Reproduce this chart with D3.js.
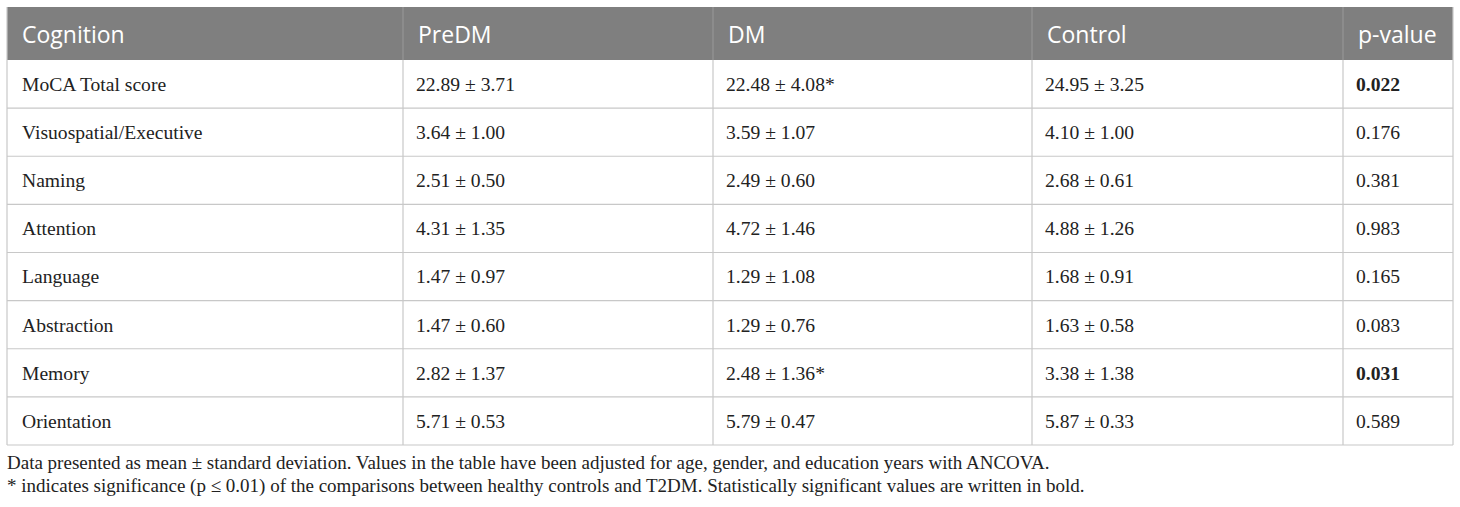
<!DOCTYPE html>
<html>
<head>
<meta charset="utf-8">
<script src="https://cdn.jsdelivr.net/npm/d3@7"></script>
<style>
  body { margin: 0; background: #fff; }
</style>
</head>
<body>
<div id="div_table"></div>
<script>
// data
var columns = ["Cognition", "PreDM", "DM", "Control", "p-value"];
var measures = ["MoCA Total score", "Visuospatial/Executive", "Naming", "Attention",
    "Language", "Abstraction", "Memory", "Orientation"];
var preDM = ["22.89 ± 3.71", "3.64 ± 1.00", "2.51 ± 0.50", "4.31 ± 1.35",
    "1.47 ± 0.97", "1.47 ± 0.60", "2.82 ± 1.37", "5.71 ± 0.53"];
var dm = ["22.48 ± 4.08*", "3.59 ± 1.07", "2.49 ± 0.60", "4.72 ± 1.46",
    "1.29 ± 1.08", "1.29 ± 0.76", "2.48 ± 1.36*", "5.79 ± 0.47"];
var control = ["24.95 ± 3.25", "4.10 ± 1.00", "2.68 ± 0.61", "4.88 ± 1.26",
    "1.68 ± 0.91", "1.63 ± 0.58", "3.38 ± 1.38", "5.87 ± 0.33"];
var pValues = ["0.022", "0.176", "0.381", "0.983", "0.165", "0.083", "0.031", "0.589"];
var significant = [true, false, false, false, false, false, true, false];
var notes = [
    "Data presented as mean ± standard deviation. Values in the table have been adjusted for age, gender, and education years with ANCOVA.",
    "* indicates significance (p ≤ 0.01) of the comparisons between healthy controls and T2DM. Statistically significant values are written in bold."
];

// layout
var W = 1460, H = 507;
var colEdges = [7, 403, 713, 1032, 1343, 1453];
var tableTop = 7, headH = 53, tableBottom = 445;

var svg = d3.select("#div_table").append("svg")
    .attr("width", W)
    .attr("height", H);

var y = d3.scaleBand().domain(d3.range(measures.length)).range([tableTop + headH, tableBottom]);

var rows = measures.map(function (m, i) {
    return [m, preDM[i], dm[i], control[i], pValues[i]];
});

// header
svg.append("rect")
    .attr("x", colEdges[0]).attr("y", tableTop)
    .attr("width", colEdges[5] - colEdges[0]).attr("height", headH)
    .attr("fill", "#7f7f7f");

svg.selectAll(".hsep").data(colEdges.slice(1, 5)).enter().append("line")
    .attr("x1", function (d) { return d; }).attr("x2", function (d) { return d; })
    .attr("y1", tableTop).attr("y2", tableTop + headH)
    .attr("stroke", "#9a9a9a").attr("stroke-width", 1);

svg.selectAll(".head").data(columns).enter().append("text")
    .attr("class", "head")
    .attr("x", function (d, i) { return colEdges[i] + 15; })
    .attr("y", tableTop + headH / 2 + 1)
    .attr("dy", "0.36em")
    .attr("fill", "#fff")
    .attr("font-family", "'Open Sans', sans-serif")
    .attr("font-size", 23)
    .text(function (d) { return d; });

// body grid
var g = svg.append("g");
g.selectAll(".hline").data(d3.range(measures.length)).enter().append("line")
    .attr("x1", colEdges[0]).attr("x2", colEdges[5])
    .attr("y1", function (d) { return y(d) + y.bandwidth(); })
    .attr("y2", function (d) { return y(d) + y.bandwidth(); })
    .attr("stroke", "#c8c8c8").attr("stroke-width", 1.2);

g.selectAll(".vline").data(colEdges).enter().append("line")
    .attr("x1", function (d) { return d; }).attr("x2", function (d) { return d; })
    .attr("y1", function (d, i) { return (i == 0 || i == 5) ? tableTop : tableTop + headH; })
    .attr("y2", tableBottom)
    .attr("stroke", "#c8c8c8")
    .attr("stroke-width", 1.2);

// cells
var rowG = g.selectAll(".row").data(rows).enter().append("g")
    .attr("class", "row")
    .attr("transform", function (d, i) { return "translate(0," + (y(i) + y.bandwidth() / 2) + ")"; });

rowG.selectAll("text").data(function (d, i) {
    return d.map(function (v, j) { return { v: v, j: j, bold: j == 4 && significant[i] }; });
}).enter().append("text")
    .attr("x", function (d) { return colEdges[d.j] + (d.j == 0 ? 15 : 13); })
    .attr("dy", "0.35em")
    .attr("font-family", "'Liberation Serif', 'Times New Roman', serif")
    .attr("font-size", 19.6)
    .attr("font-weight", function (d) { return d.bold ? "bold" : "normal"; })
    .attr("fill", "#222")
    .text(function (d) { return d.v; });

// footnotes
svg.selectAll(".note").data(notes).enter().append("text")
    .attr("class", "note")
    .attr("x", 7)
    .attr("y", function (d, i) { return 469 + i * 23; })
    .attr("font-family", "'Liberation Serif', 'Times New Roman', serif")
    .attr("font-size", 19)
    .attr("fill", "#222")
    .text(function (d) { return d; });
</script>
</body>
</html>
